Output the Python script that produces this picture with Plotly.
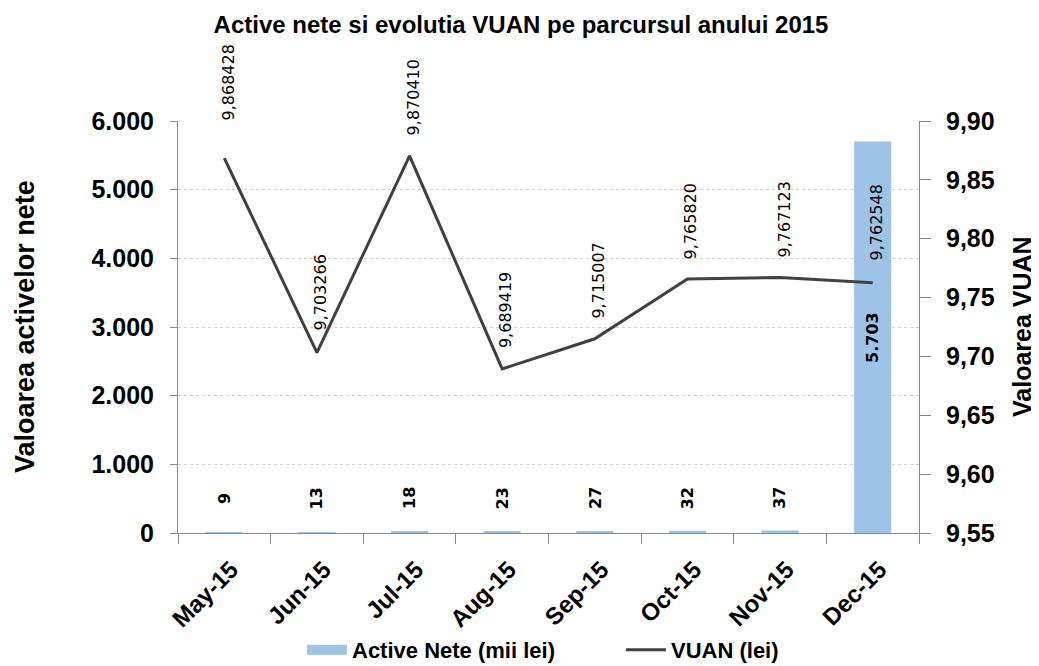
import plotly.graph_objects as go

months = ["May-15", "Jun-15", "Jul-15", "Aug-15", "Sep-15", "Oct-15", "Nov-15", "Dec-15"]
active_nete = [9, 13, 18, 23, 27, 32, 37, 5703]
vuan = [9.868428, 9.703266, 9.870410, 9.689419, 9.715007, 9.765820, 9.767123, 9.762548]

left_ticks = [0, 1000, 2000, 3000, 4000, 5000, 6000]
right_ticks = [9.55, 9.60, 9.65, 9.70, 9.75, 9.80, 9.85, 9.90]

BAR_COLOR = "#9DC3E6"
LINE_COLOR = "#404040"
TITLE_FONT = "Liberation Sans, Arial, sans-serif"
TICK_FONT = "Liberation Sans, Arial, sans-serif"
LABEL_FONT = "DejaVu Sans, Verdana, sans-serif"

# page body has an 8px margin: figure is laid out in its own coordinates
OFF = 8
W, H = 1039 - OFF, 666 - OFF
L, R, T, B = 178 - OFF, 1039 - 919, 121 - OFF, 666 - 533
PW = W - L - R

fig = go.Figure()
fig.add_trace(go.Bar(
    x=months, y=active_nete, name="Active Nete (mii lei)", showlegend=False,
    marker=dict(color=BAR_COLOR, line=dict(width=0)), width=0.4, yaxis="y",
))
fig.add_trace(go.Scatter(
    x=months, y=vuan, name="VUAN (lei)", mode="lines", showlegend=False,
    line=dict(color=LINE_COLOR, width=3), yaxis="y2",
))
fig.add_trace(go.Scatter(
    x=[None], y=[None], name="Active Nete (mii lei)", mode="lines",
    line=dict(color=BAR_COLOR, width=14), yaxis="y",
))
fig.add_trace(go.Scatter(
    x=[None], y=[None], name="VUAN (lei)", mode="lines",
    line=dict(color=LINE_COLOR, width=3), yaxis="y2",
))

annotations = []
for m, v in zip(months, active_nete):
    annotations.append(dict(
        x=m, y=v / 2, xref="x", yref="y",
        text=f"{v:,}".replace(",", "."), textangle=-90, showarrow=False,
        font=dict(family=LABEL_FONT, size=16, color="#000000", weight="bold"),
        yshift=34 if v < 500 else 0, xanchor="center", yanchor="middle",
    ))
line_shift = [36, 20, 18, 19, 18, 18, 18, 20]
for m, v, s in zip(months, vuan, line_shift):
    annotations.append(dict(
        x=m, y=v, xref="x", yref="y2",
        text=f"{v:.6f}".replace(".", ","), textangle=-90, showarrow=False,
        font=dict(family=LABEL_FONT, size=16, color="#000000"),
        yshift=s, xshift=4, xanchor="center", yanchor="bottom",
    ))
annotations.append(dict(
    x=(25 - OFF - L) / PW, y=0.5, xref="paper", yref="paper", text="Valoarea activelor nete",
    textangle=-90, showarrow=False, xanchor="center", yanchor="middle",
    font=dict(family=TICK_FONT, size=27, color="#000000", weight="bold"),
))
annotations.append(dict(
    x=(1022 - OFF - L) / PW, y=0.5, xref="paper", yref="paper", text="Valoarea VUAN",
    textangle=-90, showarrow=False, xanchor="center", yanchor="middle",
    font=dict(family=TICK_FONT, size=25, color="#000000", weight="bold"),
))

fig.update_layout(
    width=W, height=H,
    margin=dict(l=L, r=R, t=T, b=B, autoexpand=False),
    paper_bgcolor="white", plot_bgcolor="white",
    separators=",.",
    title=dict(
        text="<b>Active nete si evolutia VUAN pe parcursul anului 2015</b>",
        x=(521 - OFF) / W, xanchor="center", y=1 - (25 - OFF) / H, yanchor="middle",
        font=dict(family=TITLE_FONT, size=24, color="#000000"),
    ),
    xaxis=dict(
        type="category", tickangle=-45, tickson="boundaries",
        ticks="outside", ticklen=10, tickcolor="#888888",
        showline=True, linecolor="#888888", linewidth=1,
        showgrid=False, automargin=False, ticklabelstandoff=12, ticklabelshift=7,
        tickfont=dict(family=TICK_FONT, size=24, color="#000000", weight="bold"),
    ),
    yaxis=dict(
        range=[0, 6000], tickvals=left_ticks, tickformat=",d",
        ticks="outside", ticklen=7, tickcolor="#888888",
        showline=True, linecolor="#888888", linewidth=1,
        showgrid=True, gridcolor="#D0D0D0", griddash="dot", gridwidth=1,
        zeroline=False, automargin=False, ticklabelstandoff=11,
        tickfont=dict(family=TICK_FONT, size=25, color="#000000", weight="bold"),
    ),
    yaxis2=dict(
        range=[9.55, 9.90], tickvals=right_ticks, tickformat=".2f",
        overlaying="y", side="right",
        ticks="outside", ticklen=11, tickcolor="#888888",
        showline=True, linecolor="#888888", linewidth=1,
        showgrid=False, zeroline=False, automargin=False, ticklabelstandoff=10,
        tickfont=dict(family=TICK_FONT, size=25, color="#000000", weight="bold"),
    ),
    legend=dict(
        orientation="h", x=(302 - OFF - L) / PW, xanchor="left",
        yref="container", y=1 - (650 - OFF) / H, yanchor="middle",
        font=dict(family=TITLE_FONT, size=22, color="#000000", weight="bold"),
        itemwidth=40, entrywidth=264, tracegroupgap=0,
    ),
    annotations=annotations,
)

fig.write_html("out.html")
